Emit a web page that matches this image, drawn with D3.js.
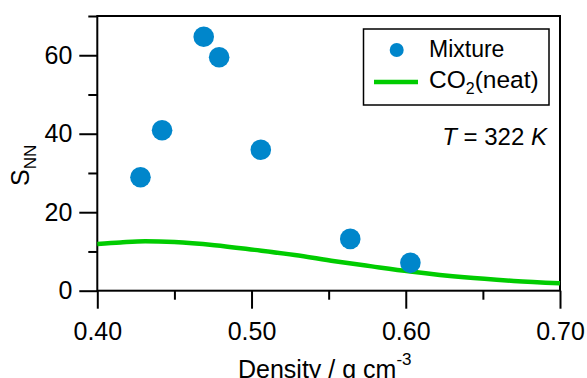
<!DOCTYPE html>
<html>
<head>
<meta charset="utf-8">
<script src="https://cdn.jsdelivr.net/npm/d3@7"></script>
<style>
  body { margin: 0; background: #fff; }
  svg { display: block; font-family: "Liberation Sans", Arial, sans-serif; }
</style>
</head>
<body>
<div id="chart"></div>
<script>
// Mixture points (density, S_NN)
var mixDensity = [0.428, 0.442, 0.469, 0.479, 0.506, 0.564, 0.603];
var mixSnn = [28.9, 40.9, 64.7, 59.5, 35.9, 13.2, 7.1];

// CO2 (neat) curve
var neatDensity = [0.400, 0.415, 0.431, 0.450, 0.476, 0.502, 0.528, 0.554, 0.578, 0.603, 0.638, 0.670, 0.700];
var neatSnn = [11.9, 12.3, 12.6, 12.4, 11.6, 10.4, 9.1, 7.5, 6.2, 4.9, 3.4, 2.5, 1.9];

var xMajor = [0.40, 0.50, 0.60, 0.70];
var xMinor = [0.45, 0.55, 0.65];
var yMajor = [0, 20, 40, 60];
var yMinor = [10, 30, 50, 70];

(function () {
    "use strict";

    var width = 587, height = 378;
    var plotLeft = 97.3, plotRight = 560, plotTop = 16, plotBottom = 290.7;
    var blue = "#0086cb", green = "#00cc00";

    var svg = d3.select("#chart").append("svg")
        .attr("width", width)
        .attr("height", height);

    var x = d3.scaleLinear().domain([0.40, 0.70]).range([plotLeft, plotRight]);
    var y = d3.scaleLinear().domain([0, 70]).range([plotBottom, plotTop]);

    //Axes with outward ticks
    var xAxisMajor = d3.axisBottom(x).tickValues(xMajor).tickSize(18).tickPadding(14)
        .tickFormat(d3.format(".2f"));
    var xAxisMinor = d3.axisBottom(x).tickValues(xMinor).tickSize(9).tickFormat("");
    var yAxisMajor = d3.axisLeft(y).tickValues(yMajor).tickSize(18).tickPadding(7)
        .tickFormat(d3.format("d"));
    var yAxisMinor = d3.axisLeft(y).tickValues(yMinor).tickSize(9).tickFormat("");

    function styleAxis(g) {
        g.select(".domain").remove();
        g.selectAll("line").attr("stroke", "#000").attr("stroke-width", 2);
        g.selectAll("text").attr("fill", "#000").style("font-size", "25px")
            .style("font-family", "'Liberation Sans', Arial, sans-serif");
    }

    svg.append("g").attr("transform", "translate(0," + plotBottom + ")").call(xAxisMajor).call(styleAxis);
    svg.append("g").attr("transform", "translate(0," + plotBottom + ")").call(xAxisMinor).call(styleAxis);
    svg.append("g").attr("transform", "translate(" + plotLeft + ",0)").call(yAxisMajor).call(styleAxis);
    svg.append("g").attr("transform", "translate(" + plotLeft + ",0)").call(yAxisMinor).call(styleAxis);

    //Frame
    svg.append("rect")
        .attr("x", plotLeft).attr("y", plotTop)
        .attr("width", plotRight - plotLeft).attr("height", plotBottom - plotTop)
        .attr("fill", "none").attr("stroke", "#000").attr("stroke-width", 2);

    //Neat curve
    var line = d3.line()
        .x(function (d, i) { return x(neatDensity[i]); })
        .y(function (d) { return y(d); })
        .curve(d3.curveMonotoneX);

    svg.append("path")
        .datum(neatSnn)
        .attr("d", line)
        .attr("fill", "none")
        .attr("stroke", green)
        .attr("stroke-width", 4.5);

    //Mixture points
    svg.append("g").selectAll("circle")
        .data(mixSnn)
        .enter().append("circle")
        .attr("cx", function (d, i) { return x(mixDensity[i]); })
        .attr("cy", function (d) { return y(d); })
        .attr("r", 10.3)
        .attr("fill", blue);

    //Axis titles
    var xt = svg.append("text")
        .attr("x", 238).attr("y", 378)
        .style("font-size", "25px");
    xt.append("tspan").text("Density / g cm");
    xt.append("tspan").attr("dy", -13).style("font-size", "17px").text("-3");

    var yt = svg.append("text")
        .attr("transform", "translate(29,186) rotate(-90)")
        .style("font-size", "25px");
    yt.append("tspan").text("S");
    yt.append("tspan").attr("dy", 7).style("font-size", "17px").text("NN");

    //Legend
    var lg = svg.append("g");
    lg.append("rect")
        .attr("x", 363.5).attr("y", 29)
        .attr("width", 185.5).attr("height", 76)
        .attr("fill", "#fff").attr("stroke", "#000").attr("stroke-width", 1.5);
    lg.append("circle").attr("cx", 396.7).attr("cy", 50).attr("r", 7).attr("fill", blue);
    lg.append("line")
        .attr("x1", 374).attr("x2", 418).attr("y1", 82).attr("y2", 82)
        .attr("stroke", green).attr("stroke-width", 4.5);
    lg.append("text").attr("x", 429).attr("y", 57).style("font-size", "23px").text("Mixture");
    var co = lg.append("text").attr("x", 429).attr("y", 87.5).style("font-size", "24.5px");
    co.append("tspan").text("CO");
    co.append("tspan").attr("dy", 6).style("font-size", "16px").text("2");
    co.append("tspan").attr("dy", -6).text("(neat)");

    //Temperature annotation
    var tt = svg.append("text").attr("x", 547).attr("y", 145)
        .attr("text-anchor", "end").style("font-size", "24px");
    tt.append("tspan").style("font-style", "italic").text("T");
    tt.append("tspan").text(" = 322 ");
    tt.append("tspan").style("font-style", "italic").text("K");
})();
</script>
</body>
</html>
